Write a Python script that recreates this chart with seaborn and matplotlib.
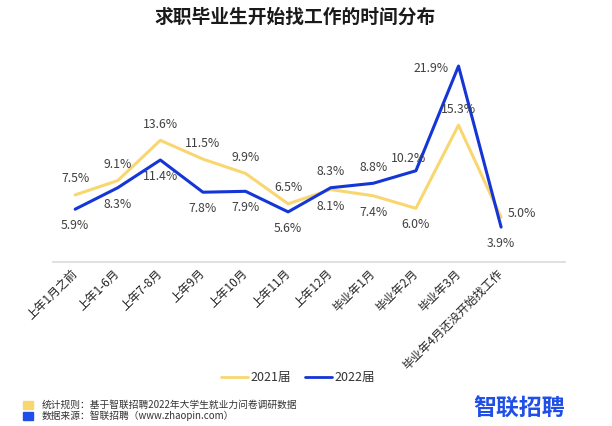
import matplotlib.pyplot as plt
import matplotlib.patches as mpatches
from matplotlib.lines import Line2D
import pandas as pd
import seaborn as sns

# Data
categories = ['上年1月之前', '上年1-6月', '上年7-8月', '上年9月', '上年10月', '上年11月',
              '上年12月', '毕业年1月', '毕业年2月', '毕业年3月', '毕业年4月还没开始找工作']
y2021 = [7.5, 9.1, 13.6, 11.5, 9.9, 6.5, 8.1, 7.4, 6.0, 15.3, 5.0]
y2022 = [5.9, 8.3, 11.4, 7.8, 7.9, 5.6, 8.3, 8.8, 10.2, 21.9, 3.9]
series = ['2021届', '2022届']

# Where each value label sits relative to its point
place2021 = ['up'] * 6 + ['down', 'down', 'down', 'up', 'right']
place2022 = ['down'] * 6 + ['up', 'up', 'upleft', 'left', 'down']

colors = {'2021届': '#F9D770', '2022届': '#1436D6'}

sns.set_style('white')
plt.rcParams['font.family'] = ['Noto Sans CJK SC', 'DejaVu Sans']

df = pd.DataFrame({
    'cat': categories * 2,
    'val': y2021 + y2022,
    'grp': [series[0]] * len(categories) + [series[1]] * len(categories),
})

fig = plt.figure(figsize=(6.12, 4.26), dpi=100)
ax = fig.add_axes([0.0866, 0.385, 0.8366, 0.504])
sns.lineplot(data=df, x='cat', y='val', hue='grp', palette=colors, sort=False,
             linewidth=2.2, legend=False, ax=ax)

ax.set_xlim(-0.52, 11.5)
ax.set_ylim(0, 24)
ax.set_xlabel('')
ax.set_ylabel('')
ax.set_yticks([])
for s in ['top', 'right', 'left']:
    ax.spines[s].set_visible(False)
ax.spines['bottom'].set_color('#dddddd')
ax.spines['bottom'].set_linewidth(1.3)
ax.tick_params(axis='x', length=0, pad=7)
ax.set_xticks(range(len(categories)))
ax.set_xticklabels(categories, rotation=45, ha='right', va='center',
                   rotation_mode='anchor', fontsize=8.5, color='#222222')

offsets = {
    'up': ((0, 11.5), 'center'),
    'down': ((0, -12), 'center'),
    'right': ((5, 3), 'left'),
    'left': ((-7, -2), 'right'),
    'upleft': ((-5, 9), 'center'),
}
for vals, places in [(y2021, place2021), (y2022, place2022)]:
    for i, (v, p) in enumerate(zip(vals, places)):
        off, ha = offsets[p]
        ax.annotate(f'{v:.1f}%', (i, v), xytext=off, textcoords='offset points',
                    ha=ha, va='center', fontsize=8.8, color='#404040')

# Title
fig.text(0.482, 0.960, '求职毕业生开始找工作的时间分布', ha='center', va='center',
         fontsize=13.5, fontweight='bold', color='#1a1a1a')

# Legend
handles = [Line2D([], [], color=colors[s], lw=2) for s in series]
fig.legend(handles, series, loc='center', bbox_to_anchor=(0.487, 1 - 378 / 426),
           ncol=2, frameon=False, fontsize=9, handlelength=2.2, handletextpad=0.2,
           columnspacing=1.1, labelcolor='#333333')

# Footnotes
fig.patches.append(mpatches.Rectangle((23 / 612, 1 - 409 / 426), 10 / 612, 8 / 426,
                                      transform=fig.transFigure, color=colors['2021届'],
                                      figure=fig))
fig.patches.append(mpatches.Rectangle((23 / 612, 1 - 420 / 426), 10 / 612, 8 / 426,
                                      transform=fig.transFigure, color='#1F4FE8',
                                      figure=fig))
fig.text(42 / 612, 1 - 405 / 426, '统计规则：基于智联招聘2022年大学生就业力问卷调研数据',
         ha='left', va='center', fontsize=7, color='#333333')
fig.text(42 / 612, 1 - 416 / 426, '数据来源：智联招聘（www.zhaopin.com）',
         ha='left', va='center', fontsize=7, color='#333333')

# Brand mark
fig.text(473 / 612, 1 - 409 / 426, '智联招聘', ha='left', va='center',
         fontsize=16.5, fontweight='bold', color='#1F4FE8')

fig.savefig('out.png', dpi=100)
